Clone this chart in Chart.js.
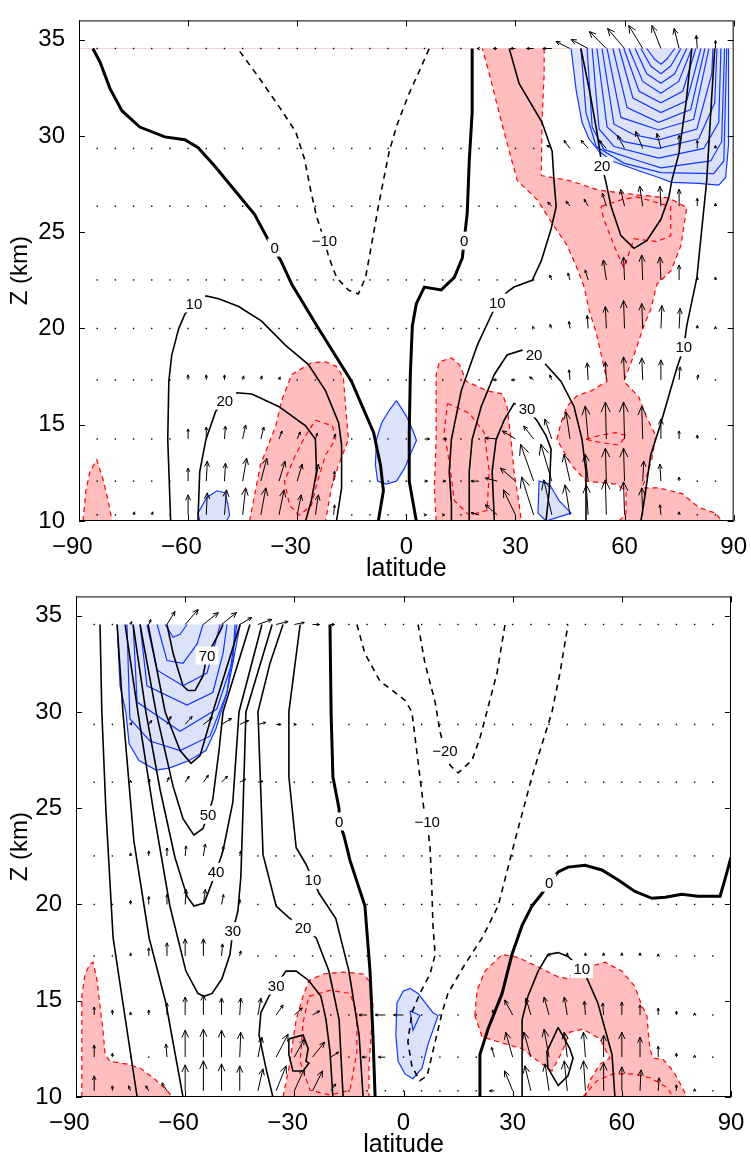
<!DOCTYPE html>
<html>
<head>
<meta charset="utf-8">
<script src="https://cdn.jsdelivr.net/npm/chart.js@4.4.1/dist/chart.umd.min.js"></script>
<style>
  body { margin: 0; background: #fff; width: 751px; height: 1156px; position: relative; overflow: hidden; }
  .panel { position: absolute; left: 0; width: 751px; height: 580px; }
</style>
</head>
<body>
<div class="panel" style="top:0"><canvas id="topPanel"></canvas></div>
<div class="panel" style="top:576px"><canvas id="bottomPanel"></canvas></div>
<script>
// ---- quiver grid (both panels) ----
const quiverLat = [-85,-80,-75,-70,-65,-60,-55,-50,-45,-40,-35,-30,-25,-20,-15,-10,-5,0,5,10,15,20,25,30,35,40,45,50,55,60,65,70,75,80,85];
const quiverZ = [34.54, 29.35, 26.35, 22.52, 20.0, 17.33, 14.26, 12.07, 10.32];

const xTicks = [-90, -60, -30, 0, 30, 60, 90];
const zTicks = [10, 15, 20, 25, 30, 35];

// ---- top panel: arrows (u east, w up) ----
const topU = [
  [0,0,0,0,0,0,0,0,0,0,0,0,0,0,0,0,0,0,0,0,0,-2,-4,-5,-7,-9,-14,-17,-17,-17,-14,-9,-5,-1,0],
  [0,0,0,0,0,0,0,0,0,0,0,0,0,0,0,0,0,0,0,0,0,0,0,0,0,-5,-6,-7,-7,-7,-7,-4,0,0,0],
  [0,0,0,0,0,0,0,0,0,0,0,0,0,0,0,0,0,0,0,0,0,0,0,0,0,-4,-4,-4,-4,-4,-3,-1,0,0,0],
  [0,0,0,0,0,0,0,0,0,0,0,0,0,0,0,0,0,0,0,0,0,0,0,0,0,-2,-2,-3,-3,-1,-1,-1,0,0,0],
  [0,0,0,0,0,0,0,0,0,0,0,0,0,0,0,0,0,0,0,0,0,0,0,0,-1,-2,-1,-1,-1,-1,-1,1,1,0,0],
  [0,0,0,0,0,0,0,0,1,1,1,0,0,0,0,0,0,0,0,0,0,0,-4,-4,-4,-2,-1,-1,-1,-1,-1,0,1,1,0],
  [0,0,0,0,0,0,0,1,3,3,3,3,2,2,0,0,0,0,5,4,0,0,-12,-13,-10,-7,-4,-3,-1,-1,-1,0,0,0,0],
  [0,0,0,0,0,0,1,1,4,6,6,5,3,1,0,0,0,0,3,3,0,-8,-12,-15,-13,-11,-6,-3,-1,-1,1,-1,0,0,0],
  [0,0,1,1,0,0,1,2,3,5,5,4,3,1,0,0,0,0,2,2,0,-8,-12,-12,-12,-8,-5,-2,-1,-1,-1,-1,0,0,0]
];
const topW = [
  [0,0,0,0,0,0,0,0,0,0,0,0,0,0,0,0,0,0,0,0,0,0,0,0,0,0,7,9,17,20,23,23,20,13,8],
  [0,0,0,0,0,0,0,0,0,0,0,0,0,0,0,0,0,0,0,0,0,0,0,0,0,3,8,8,8,13,17,15,13,8,3],
  [0,0,0,0,0,0,0,0,0,0,0,0,0,0,0,0,0,0,0,0,0,0,0,0,0,4,5,7,13,17,20,20,17,8,3],
  [0,0,0,0,0,0,0,0,0,0,0,0,0,0,0,0,0,0,0,0,0,0,0,0,0,5,7,10,20,23,25,23,15,3,3],
  [0,0,0,0,0,0,0,0,0,0,0,0,0,0,0,0,0,0,0,0,0,0,0,0,2,4,7,13,22,28,25,23,20,3,2],
  [0,0,0,0,0,5,5,5,4,4,3,0,0,0,0,0,0,0,0,0,0,0,0,0,3,5,10,17,18,23,22,20,13,5,0],
  [0,0,0,0,0,10,12,13,14,12,8,7,6,5,0,0,0,0,0,0,0,0,1,8,13,20,27,33,37,37,33,20,8,4,0],
  [0,0,0,0,0,13,20,18,23,23,20,17,17,10,0,0,0,0,0,0,0,0,3,13,37,37,27,27,33,33,20,17,4,0,0],
  [0,0,3,3,0,20,22,25,27,27,25,20,20,10,0,0,0,0,0,0,0,2,10,25,38,35,30,30,35,33,27,10,3,0,0]
];

// ---- bottom panel: arrows ----
const botU = [
  [0,0,1,2,8,13,15,15,12,14,12,10,7,4,0,0,0,0,0,0,0,0,0,0,0,0,0,0,0,0,0,0,0,0,0],
  [0,0,1,3,4,7,9,10,9,8,5,2,0,0,0,0,0,0,0,0,0,0,0,0,0,0,0,0,0,0,0,0,0,0,0],
  [0,0,0,1,2,4,5,6,6,5,0,0,0,0,0,0,0,0,0,0,0,0,0,0,0,0,0,0,0,0,0,0,0,0,0],
  [0,0,0,0,0,1,2,2,1,0,0,0,0,0,0,0,0,0,0,0,0,0,0,0,0,0,0,0,0,0,0,0,0,0,0],
  [0,0,0,0,0,1,2,2,0,0,0,0,0,0,0,0,0,0,0,0,0,0,0,0,0,0,0,0,0,0,0,0,0,0,0],
  [0,0,0,0,0,0,0,1,1,0,0,0,0,0,0,0,0,0,0,0,0,0,0,0,0,0,0,0,0,0,0,0,0,0,0],
  [0,0,0,0,0,0,0,0,1,3,7,8,7,0,0,-8,-10,-10,0,0,0,0,-2,-8,-5,-5,-3,-1,-1,0,0,0,0,0,0],
  [0,0,0,0,-1,0,0,0,1,4,12,10,12,8,0,-5,-7,0,0,0,0,0,-3,-7,-7,-5,-3,-2,0,0,0,0,0,0,0],
  [0,0,-2,-3,-5,0,0,0,0,5,10,10,10,5,0,0,0,0,0,0,0,0,-5,-8,-6,-4,-3,-2,0,0,1,1,0,0,0]
];
const botW = [
  [0,0,3,5,13,15,12,12,7,5,3,2,0,0,0,0,0,0,0,0,0,0,0,0,0,0,0,0,0,0,0,0,0,0,0],
  [0,0,2,4,8,8,7,6,4,2,0,0,0,0,0,0,0,0,0,0,0,0,0,0,0,0,0,0,0,0,0,0,0,0,0],
  [0,0,2,3,5,6,7,6,3,1,0,0,0,0,0,0,0,0,0,0,0,0,0,0,0,0,0,0,0,0,0,0,0,0,0],
  [0,0,3,5,8,10,12,10,5,0,0,0,0,0,0,0,0,0,0,0,0,0,0,0,0,0,0,0,0,0,0,0,0,0,0],
  [0,0,4,8,10,15,15,10,5,0,0,0,0,0,0,0,0,0,0,0,0,0,0,0,0,0,0,0,0,0,0,0,0,0,0],
  [0,0,3,8,13,17,17,12,5,0,0,0,0,0,0,0,0,0,0,0,0,0,0,0,0,2,3,3,3,3,3,2,0,0,0],
  [8,5,3,5,12,18,20,17,17,17,10,7,4,0,0,0,0,0,0,0,0,0,5,15,17,18,18,14,12,13,10,7,4,2,0],
  [12,4,0,0,13,27,28,27,25,20,23,18,15,5,0,0,0,0,0,0,0,0,10,25,25,28,25,25,22,25,20,11,4,2,0],
  [15,5,5,5,8,26,30,27,25,22,25,22,20,7,0,0,0,0,0,0,0,0,0,20,25,27,30,30,28,24,21,13,6,2,0]
];

// ---- top panel: shaded regions [lat, z] ----
const topPink1 = [[-88.9,10.0],[-88.1,11.57],[-87.0,12.57],[-85.1,13.18],[-83.4,12.17],[-82.0,11.06],[-80.9,10.0]];
const topPink2 = [[-43.1,10.0],[-40.1,12.92],[-35.9,14.94],[-34.3,16.25],[-31.5,17.61],[-26.1,18.22],[-22.2,18.27],[-19.2,18.02],[-17.3,17.46],[-16.7,15.95],[-15.9,14.24],[-18.6,12.92],[-20.6,11.72],[-22.2,10.0]];
const topPink3 = [[8.2,10.0],[7.7,11.72],[8.2,14.24],[8.2,17.61],[9.1,18.27],[12.4,18.47],[14.6,18.12],[16.5,17.26],[22.2,16.76],[26.4,16.6],[27.7,15.95],[28.8,14.24],[29.6,12.57],[31.0,10.91],[31.6,10.0]];
const topPink4 = [[37.9,34.54],[37.9,33.23],[37.3,30.71],[37.1,27.94],[44.7,27.69],[53.0,27.18],[63.9,26.93],[72.2,26.78],[77.1,26.28],[75.5,24.31],[72.8,23.0],[68.9,22.3],[67.2,20.99],[65.3,20.13],[62.6,18.62],[59.8,17.26],[63.9,16.45],[65.9,15.45],[68.6,14.44],[67.5,13.23],[65.9,12.22],[64.8,11.72],[69.4,11.72],[75.8,11.42],[80.4,10.71],[85.1,10.4],[86.7,10.0],[58.5,10.0],[60.4,10.4],[60.4,11.57],[57.6,11.92],[49.4,12.07],[45.3,12.93],[41.4,14.24],[42.5,15.09],[44.2,15.95],[46.9,16.5],[50.8,16.76],[55.2,17.26],[53.8,18.47],[52.2,19.78],[50.2,20.99],[48.9,22.15],[46.9,23.15],[44.2,24.31],[40.6,25.32],[36.0,26.68],[30.5,27.69],[28.3,29.2],[25.5,31.21],[22.8,33.23],[20.9,34.54]];
const topRedInner = [
  [[-25.0,15.24],[-20.3,14.94],[-19.5,14.24],[-22.2,13.43],[-24.4,12.07],[-26.1,10.81],[-29.4,10.3],[-32.1,10.81],[-33.5,12.07],[-30.7,13.33],[-28.0,14.34],[-25.0,15.24]],
  [[11.3,16.1],[17.3,15.6],[21.4,14.59],[22.8,12.57],[22.2,10.56],[17.3,10.3],[13.2,11.06],[11.8,13.08],[10.4,14.59],[11.3,16.1]],
  [[53.5,26.33],[59.0,26.68],[63.4,26.83],[72.7,26.33],[72.7,24.82],[68.9,24.51],[62.6,24.66],[59.8,23.15],[57.1,24.31],[54.3,25.67],[53.5,26.33]],
  [[49.4,14.24],[53.0,14.44],[57.6,14.59],[60.4,14.44],[58.5,13.94],[53.0,14.09],[49.4,14.24]]
];
const topBlue1 = [[45.3,34.54],[46.7,32.37],[48.3,30.71],[50.2,29.85],[53.0,29.2],[56.5,28.7],[63.9,28.19],[69.4,27.84],[73.0,27.59],[80.4,27.54],[85.9,27.44],[87.8,27.84],[88.6,29.55],[88.6,34.54]];
const topBlue2 = [[-2.7,16.25],[0.0,15.45],[1.7,14.74],[2.8,14.19],[1.4,13.58],[-0.5,12.73],[-2.7,12.07],[-5.5,11.92],[-7.9,12.07],[-8.5,12.93],[-8.2,14.24],[-6.8,15.09],[-4.7,15.75]];
const topBlue3 = [[-56.8,10],[-57.3,10.41],[-54.9,11.21],[-52.1,11.57],[-49.9,11.47],[-49.1,10.91],[-48.6,10.3],[-49.4,10]];
const topBlue4 = [[38.4,10.0],[36.2,10.41],[36.5,12.07],[39.3,11.92],[42.0,11.06],[45.3,10.41]];
const topBlueLines = [
  [[66.1,34.54],[68.3,33.98],[70.0,33.73],[71.6,33.98],[73.8,34.54]],
  [[64.5,34.54],[67.2,33.63],[70.0,33.23],[72.7,33.63],[75.5,34.54]],
  [[62.9,34.54],[66.1,33.23],[70.0,32.73],[73.8,33.23],[77.1,34.54]],
  [[61.2,34.54],[65.0,32.83],[70.0,32.22],[74.9,32.83],[78.5,34.54]],
  [[59.8,34.54],[64.0,32.32],[70.0,31.72],[76.0,32.32],[79.6,34.54]],
  [[58.5,34.54],[62.3,31.97],[70.0,31.21],[77.1,31.82],[81.0,34.54]],
  [[56.8,34.54],[60.7,31.47],[69.4,30.71],[78.2,31.37],[82.1,34.54]],
  [[55.2,34.54],[59.0,30.96],[69.4,30.31],[79.0,30.86],[83.2,34.54]],
  [[53.8,34.54],[57.1,30.61],[62.6,30.06],[69.4,29.8],[79.9,30.36],[84.0,33.23],[84.3,34.54]],
  [[52.4,34.54],[55.2,30.46],[59.8,29.7],[69.4,29.35],[80.4,29.85],[84.8,31.72],[85.4,34.54]],
  [[51.1,34.54],[53.0,30.36],[57.1,29.45],[69.4,28.85],[81.8,29.35],[85.9,30.71],[86.5,34.54]],
  [[49.7,34.54],[51.1,30.46],[54.3,29.3],[64.0,28.7],[70.0,28.34],[83.7,28.7],[86.7,29.7],[87.5,34.54]],
  [[48.0,34.54],[49.4,31.21],[52.2,29.45],[59.8,28.59],[70.0,28.09],[84.5,28.04],[87.3,28.7],[88.1,34.54]]
];

// ---- top panel: wind contours ----
const topZeroWest = [[-86.2,34.54],[-84.2,33.83],[-81.5,32.47],[-78.2,31.31],[-73.3,30.46],[-66.4,29.95],[-60.9,29.8],[-57.3,29.4],[-52.7,28.44],[-47.2,27.18],[-41.7,25.92],[-37.0,24.26],[-34.6,23.56],[-31.5,22.3],[-24.1,19.98],[-15.1,17.26],[-9.0,14.6],[-7.1,12.9],[-6.3,11.57],[-7.7,10.0]];
const topZeroEast = [[18.1,34.54],[18.1,31.21],[17.3,28.7],[16.75,26.0],[15.9,24.56],[15.4,23.66],[13.2,22.65],[9.6,22.0],[4.95,22.15],[2.75,21.29],[1.65,20.13],[1.1,17.61],[0.8,14.6],[0.8,12.07],[2.75,10.0]];
const topMinus10 = [[-45.8,34.39],[-40.9,33.13],[-34.8,31.47],[-30.4,30.21],[-28.0,28.8],[-26.3,27.18],[-24.7,25.82],[-22.5,24.56],[-21.4,23.76],[-19.2,22.65],[-15.9,21.99],[-13.2,21.79],[-11.2,22.65],[-9.6,24.31],[-7.7,26.33],[-6.3,27.69],[-4.7,29.2],[-2.5,30.61],[0.8,32.22],[3.6,33.38],[6.3,34.54]];
const topPositive = [
  [[-64.8,10.0],[-65.6,14.24],[-65.3,17.26],[-64.5,18.62],[-62.6,19.98],[-60.9,20.74],[-58.4,21.29],[-55.1,21.69],[-51.6,21.54],[-46.1,21.14],[-39.8,20.38],[-33.2,19.12],[-26.9,18.12],[-22.2,16.76],[-18.6,15.09],[-17.8,13.94],[-17.8,11.72],[-19.2,10.0]],
  [[-57.3,10.0],[-56.8,12.57],[-55.1,14.24],[-52.4,15.7],[-49.9,16.25],[-46.6,16.66],[-42.5,16.6],[-35.1,15.95],[-27.7,14.94],[-25.0,14.24],[-24.7,12.57],[-26.1,11.06],[-27.7,10.0]],
  [[28.3,34.54],[31.0,32.73],[37.3,30.71],[40.1,29.2],[40.6,27.69],[41.2,26.33],[39.8,25.17],[37.1,23.51],[34.6,22.5],[29.6,22.15],[27.7,21.89],[25.0,21.34],[23.6,20.79],[19.5,19.12],[15.1,16.76],[12.4,14.24],[11.8,12.57],[12.4,10.91],[12.4,10.0]],
  [[17.3,10.0],[17.3,12.57],[18.1,14.24],[20.6,15.95],[24.2,17.61],[27.7,18.62],[31.8,18.87],[35.1,18.62],[37.9,18.22],[42.5,17.26],[46.1,15.95],[48.3,14.24],[49.4,12.57],[49.4,10.0]],
  [[24.2,10.0],[23.6,12.57],[24.7,14.24],[26.9,15.24],[29.6,16.1],[33.2,15.85],[36.0,15.19],[38.4,14.44],[39.8,13.73],[39.3,11.57],[38.4,10.0]],
  [[48.0,34.54],[50.5,32.22],[52.4,30.21],[53.8,28.44],[54.9,27.59],[56.3,26.33],[59.0,24.82],[62.6,24.16],[66.1,24.56],[70.0,25.67],[72.2,26.83],[73.0,27.69],[74.9,29.05],[76.9,31.72],[78.5,34.54]],
  [[84.8,34.54],[83.7,31.21],[82.6,27.69],[79.9,22.65],[77.1,20.13],[76.3,19.02],[74.4,17.96],[70.0,15.09],[67.2,13.43],[65.3,10.91],[64.5,10.0]]
];
const topLabels = [[-36.2,24.2,'0'],[-22.5,24.56,'\u221210'],[15.9,24.56,'0'],[-58.4,21.3,'10'],[25.0,21.34,'10'],[-49.9,16.25,'20'],[35.1,18.62,'20'],[33.2,15.85,'30'],[53.8,28.44,'20'],[76.3,19.02,'10']];

// ---- bottom panel: shaded regions ----
const botPink1 = [[-88.4,10.0],[-88.4,15.24],[-87.5,16.39],[-86.2,16.9],[-85.3,17.0],[-84.2,16.04],[-83.4,14.73],[-82.6,13.52],[-82.0,12.21],[-80.7,11.86],[-76.0,11.71],[-72.4,11.5],[-68.8,11.0],[-65.0,10.35],[-63.6,10.0]];
const botPink2 = [[-33.1,10],[-31.5,11.5],[-29.5,14.02],[-27.6,15.24],[-26.0,16.04],[-22.1,16.39],[-16.6,16.49],[-11.1,16.39],[-9.5,16.04],[-8.4,14.88],[-8.9,13.22],[-9.5,11.5],[-9.5,10]];
const botPink3 = [[19.6,14.23],[20.2,15.54],[22.4,16.54],[27.1,17.4],[31.5,17.25],[37.0,16.75],[42.5,16.24],[45.2,16.14],[46.3,16.39],[50.7,16.75],[55.4,17.0],[60.0,16.54],[63.6,15.74],[65.5,14.73],[66.9,14.23],[67.2,13.52],[67.7,12.51],[68.6,12.01],[71.3,11.96],[74.1,11.35],[76.0,10.7],[77.9,10.0],[49.9,10.0],[51.2,10.85],[54.0,11.71],[56.7,12.01],[54.0,13.02],[49.3,13.52],[45.7,13.37],[43.6,12.36],[40.8,11.35],[37.0,11.86],[32.6,12.51],[26.0,12.87],[21.6,13.12]];
const botRedInner = [
  [[-26.0,15.23],[-20.2,15.54],[-14.7,15.38],[-12.8,14.38],[-12.8,12.36],[-14.7,10.35],[-20.2,10.1],[-25.7,10.35],[-28.4,11.86],[-27.6,13.87],[-26.0,15.23]],
  [[49.3,10],[53.2,10.85],[57.6,11.2],[63.1,11.2],[67.7,11.0],[72.4,10.5],[74.1,10]]
];
const botBlue1 = [[-78.7,34.54],[-77.9,31.36],[-76.3,30.0],[-75.4,28.34],[-72.7,27.48],[-68.0,26.98],[-64.4,27.08],[-58.9,27.48],[-54.3,27.99],[-51.5,29.15],[-48.5,31.01],[-46.9,32.52],[-44.9,34.54]];
const botBlue2 = [[1.8,15.64],[4.0,15.38],[8.1,14.38],[9.5,14.23],[6.7,12.71],[5.1,11.5],[2.6,10.95],[0.4,11.2],[-1.5,11.86],[-2.1,13.22],[-1.8,14.88],[-0.1,15.49]];
const botBlueLines = [
  [[1.8,14.48],[4.5,14.23],[2.6,13.47],[1.8,14.48]],
  [[-65.5,34.54],[-63.3,33.88],[-61.4,34.03],[-59.5,34.54]],
  [[-67.7,34.54],[-65.0,32.67],[-60.6,32.52],[-56.7,33.53],[-55.1,34.54]],
  [[-70.5,34.54],[-67.7,32.17],[-60.6,31.36],[-54.0,32.02],[-51.3,33.88],[-50.4,34.54]],
  [[-72.4,34.54],[-70.5,31.36],[-59.5,30.36],[-52.4,31.01],[-49.6,33.03],[-48.5,34.54]],
  [[-74.3,34.54],[-73.2,30.51],[-61.4,28.99],[-51.3,30.15],[-46.9,32.67],[-46.3,34.54]],
  [[-76.0,34.54],[-75.2,29.65],[-69.7,28.49],[-61.4,27.99],[-53.2,28.74],[-48.5,31.01],[-45.8,34.54]]
];

// ---- bottom panel: wind contours ----
const botZeroWest = [[-20.2,34.54],[-19.9,30.0],[-19.4,26.63],[-17.7,24.96],[-17.7,24.31],[-16.4,23.6],[-14.7,22.29],[-10.6,19.92],[-9.2,16.54],[-8.4,13.22],[-7.8,10.0]];
const botZeroEast = [[21.0,10],[21.0,12.21],[23.2,13.52],[27.1,15.38],[29.8,17.4],[32.6,18.91],[35.3,19.92],[38.1,20.58],[40.0,21.13],[42.5,21.69],[45.2,21.94],[49.9,22.04],[54.5,21.79],[58.9,21.28],[63.6,20.68],[68.3,20.32],[71.9,20.38],[76.5,20.53],[80.9,20.43],[87.0,20.43],[88.3,21.28],[90.0,22.44]];
const botMinus10 = [[-12.8,34.54],[-10.6,33.03],[-6.5,31.61],[0.4,30.61],[2.3,30.0],[3.4,28.34],[4.5,26.63],[5.6,24.96],[6.5,24.31],[7.3,22.95],[7.8,20.78],[8.1,18.91],[8.7,17.4],[7.3,16.39],[4.5,15.38],[2.3,14.38],[1.2,12.87],[2.3,11.6],[4.5,10.85],[6.5,11.1],[8.7,12.87],[10.6,14.38],[12.2,15.38],[16.9,16.9],[21.6,18.26],[26.0,19.92],[30.6,23.3],[35.3,26.63],[40.8,30.0],[43.0,32.02],[45.2,34.54]];
const botMinus20 = [[4.0,34.54],[5.9,32.52],[8.7,30.51],[10.0,29.0],[11.4,27.99],[12.8,27.23],[15.0,26.83],[18.8,27.48],[21.0,28.64],[22.9,30.0],[25.7,32.02],[27.9,34.54]];
const botPositive = [
  [[-83.4,34.54],[-82.9,30.0],[-81.8,24.96],[-79.8,18.26],[-77.1,14.88],[-73.2,10]],
  [[-78.7,34.54],[-77.1,30.0],[-74.1,23.3],[-69.9,18.26],[-65.3,14.88],[-60.6,10]],
  [[-76.5,34.54],[-73.0,30.0],[-68.8,24.96],[-64.2,19.92],[-59.8,16.54],[-56.5,15.38],[-54.8,15.23],[-52.6,15.38],[-49.9,16.14],[-47.7,17.4],[-46.9,18.61],[-45.5,19.67],[-44.7,21.43],[-44.1,24.96],[-43.3,30.0],[-36.1,34.54]],
  [[-74.3,34.54],[-70.8,30.0],[-66.9,25.97],[-62.8,22.44],[-59.5,20.43],[-57.6,19.92],[-54.8,20.07],[-51.5,21.69],[-49.6,22.79],[-46.9,25.31],[-45.2,30.0],[-38.9,34.54]],
  [[-72.4,34.54],[-68.0,30.0],[-63.3,26.12],[-60.6,24.46],[-57.6,23.6],[-55.1,23.95],[-53.7,24.66],[-52.4,25.47],[-50.7,27.99],[-49.6,30.0],[-42.2,34.54]],
  [[-70.2,34.54],[-65.5,30.0],[-61.4,27.99],[-58.4,27.33],[-55.9,27.73],[-52.4,30.0],[-44.9,34.54]],
  [[-65.0,34.54],[-63.3,33.03],[-60.6,31.36],[-59.2,31.11],[-57.3,31.11],[-55.1,31.87],[-54.0,32.93],[-50.4,34.19],[-49.6,34.54]],
  [[-33.1,34.54],[-36.7,32.52],[-40.0,30.0],[-38.6,22.59],[-35.0,19.92],[-31.5,19.32],[-27.6,18.81],[-24.0,18.26],[-20.5,16.54],[-17.7,14.02],[-16.6,10]],
  [[-28.4,34.54],[-31.5,30.0],[-31.5,26.63],[-29.5,22.95],[-26.8,22.09],[-24.9,21.28],[-23.2,20.58],[-18.6,19.27],[-15.0,16.54],[-12.2,13.22],[-11.1,10]],
  [[-35.9,10],[-37.8,11.5],[-39.7,13.22],[-39.2,14.38],[-37.0,15.23],[-35.0,15.79],[-32.3,16.54],[-29.5,16.54],[-26.0,16.04],[-22.7,15.23],[-21.3,14.02],[-20.2,12.36],[-19.4,10]],
  [[-31.5,13.02],[-27.6,13.22],[-26.2,12.51],[-26.8,11.86],[-26.0,11.76],[-27.6,11.35],[-30.4,11.35],[-31.5,12.21],[-31.5,13.02]],
  [[32.6,10],[32.6,14.02],[34.2,15.23],[37.0,16.54],[39.7,17.4],[42.5,17.5],[45.2,17.3],[49.0,16.64],[50.7,16.04],[53.4,14.88],[55.4,13.52],[57.3,12.21],[58.1,10]],
  [[42.5,13.62],[45.7,12.51],[46.6,12.01],[45.2,11.1],[42.5,10.6],[39.7,11.5],[39.4,12.36],[42.5,13.62]]
];
const botLabels = [[-54.0,32.93,'70'],[-53.7,24.66,'50'],[-51.5,21.69,'40'],[-46.9,18.61,'30'],[-35.0,15.79,'30'],[-27.6,18.81,'20'],[-24.9,21.28,'10'],[-17.7,24.31,'0'],[6.5,24.31,'\u221210'],[11.4,27.99,'\u221220'],[40.0,21.13,'0'],[49.0,16.64,'10']];

// ---- styling ----
const FONT = "'Liberation Sans', Arial, Helvetica, sans-serif";
const PINK = '#ffbdbd', RED = '#ff0000';
const LAVENDER = '#dde2fb', BLUE = '#1038ff';

const pts = a => a.map(p => ({ x: p[0], y: p[1] }));
const closed = a => (a[0][0] === a[a.length - 1][0] && a[0][1] === a[a.length - 1][1]) ? a : a.concat([a[0]]);
// segments lying on the bottom or top limit of the data are not outlined
const onEdge = c => (c.p0.parsed.y <= 10.01 && c.p1.parsed.y <= 10.01) || (c.p0.parsed.y >= 34.5 && c.p1.parsed.y >= 34.5);

function region(a, fillColor, lineColor, dashed, order) {
  return {
    data: pts(closed(a)), fill: false, polyFill: fillColor,
    borderColor: lineColor, borderWidth: 1.2, borderDash: dashed ? [5, 4] : [],
    segment: { borderColor: c => onEdge(c) ? 'rgba(0,0,0,0)' : lineColor },
    order: order
  };
}
function line(a, color, width, dash, order) {
  return { data: pts(a), fill: false, borderColor: color, borderWidth: width, borderDash: dash || [], order: order };
}

const topDatasets = [
  line([[-90, 34.54], [90, 34.54]], 'rgba(255,120,120,0.35)', 1, null, 9),
  region(topPink1, PINK, RED, true, 8), region(topPink2, PINK, RED, true, 8),
  region(topPink3, PINK, RED, true, 8), region(topPink4, PINK, RED, true, 8),
  region(topBlue1, LAVENDER, BLUE, false, 7), region(topBlue2, LAVENDER, BLUE, false, 7),
  region(topBlue3, LAVENDER, BLUE, false, 7), region(topBlue4, LAVENDER, BLUE, false, 7),
  ...topRedInner.map(a => line(a, RED, 1.2, [5, 4], 6)),
  ...topBlueLines.map(a => line(a, BLUE, 1.2, null, 6)),
  ...topPositive.map(a => line(a, '#000', 1.6, null, 2)),
  line(topMinus10, '#000', 1.6, [6, 5], 2),
  line(topZeroWest, '#000', 3, null, 1), line(topZeroEast, '#000', 3, null, 1)
];
const botDatasets = [
  region(botPink1, PINK, RED, true, 8), region(botPink2, PINK, RED, true, 8), region(botPink3, PINK, RED, true, 8),
  region(botBlue1, LAVENDER, BLUE, false, 7), region(botBlue2, LAVENDER, BLUE, false, 7),
  ...botRedInner.map(a => line(a, RED, 1.2, [5, 4], 6)),
  ...botBlueLines.map(a => line(a, BLUE, 1.2, null, 6)),
  ...botPositive.map(a => line(a, '#000', 1.6, null, 2)),
  line(botMinus10, '#000', 1.6, [6, 5], 2), line(botMinus20, '#000', 1.6, [6, 5], 2),
  line(botZeroWest, '#000', 3, null, 1), line(botZeroEast, '#000', 3, null, 1)
];

// fills the polygon of a region dataset from its laid-out points, just before its outline
const polygonFill = {
  id: 'polygonFill',
  beforeDatasetDraw(chart, args) {
    const ds = chart.data.datasets[args.index];
    if (!ds.polyFill) return;
    const { ctx, chartArea: a } = chart;
    const p = args.meta.data;
    ctx.save();
    ctx.beginPath(); ctx.rect(a.left, a.top, a.right - a.left, a.bottom - a.top); ctx.clip();
    ctx.beginPath();
    p.forEach((e, i) => i ? ctx.lineTo(e.x, e.y) : ctx.moveTo(e.x, e.y));
    ctx.closePath();
    ctx.fillStyle = ds.polyFill;
    ctx.fill();
    ctx.restore();
  }
};

// arrows, frame with inward ticks, contour labels
function extras(U, W, labels) {
  return {
    id: 'extras',
    afterDatasetsDraw(chart) {
      const { ctx, chartArea: a, scales: { x, y } } = chart;
      ctx.save();
      ctx.strokeStyle = '#000'; ctx.fillStyle = '#000'; ctx.lineWidth = 1;
      quiverZ.forEach((z, r) => quiverLat.forEach((lat, c) => {
        const px = x.getPixelForValue(lat), py = y.getPixelForValue(z);
        const dx = U[r][c], dy = -W[r][c];
        const len = Math.hypot(dx, dy);
        if (len < 1.5) { ctx.fillRect(px - 0.7, py - 0.7, 1.4, 1.4); return; }
        const tx = px + dx, ty = py + dy, ang = Math.atan2(dy, dx);
        const h = Math.max(3, len * 0.3);
        ctx.beginPath();
        ctx.moveTo(px, py); ctx.lineTo(tx, ty);
        ctx.moveTo(tx - h * Math.cos(ang - 0.42), ty - h * Math.sin(ang - 0.42));
        ctx.lineTo(tx, ty);
        ctx.lineTo(tx - h * Math.cos(ang + 0.42), ty - h * Math.sin(ang + 0.42));
        ctx.stroke();
      }));

      ctx.font = '15px ' + FONT;
      ctx.textAlign = 'center'; ctx.textBaseline = 'middle';
      labels.forEach(([lat, z, t]) => {
        const px = x.getPixelForValue(lat), py = y.getPixelForValue(z);
        const w = ctx.measureText(t).width;
        ctx.fillStyle = '#fff';
        ctx.fillRect(px - w / 2 - 3, py - 9, w + 6, 18);
        ctx.fillStyle = '#000';
        ctx.fillText(t, px, py + 1);
      });

      ctx.lineWidth = 1; ctx.strokeStyle = '#000';
      ctx.strokeRect(a.left + 0.5, a.top + 0.5, a.right - a.left - 1, a.bottom - a.top - 1);
      ctx.beginPath();
      xTicks.forEach(v => {
        const p = Math.round(x.getPixelForValue(v)) + 0.5;
        ctx.moveTo(p, a.bottom); ctx.lineTo(p, a.bottom - 6);
        ctx.moveTo(p, a.top); ctx.lineTo(p, a.top + 6);
      });
      zTicks.forEach(v => {
        const p = Math.round(y.getPixelForValue(v)) + 0.5;
        ctx.moveTo(a.left, p); ctx.lineTo(a.left + 6, p);
        ctx.moveTo(a.right, p); ctx.lineTo(a.right - 6, p);
      });
      ctx.stroke();
      ctx.restore();
    }
  };
}

function makePanel(id, datasets, U, W, labels, leftWidth, rightPad) {
  new Chart(document.getElementById(id), {
    type: 'line',
    data: { datasets: datasets },
    options: {
      responsive: true, maintainAspectRatio: false, animation: false,
      layout: { padding: { top: 5, right: rightPad, bottom: 0, left: 0 } },
      elements: { point: { radius: 0 }, line: { tension: 0 } },
      plugins: { legend: { display: false }, tooltip: { enabled: false } },
      scales: {
        x: {
          type: 'linear', min: -90, max: 90,
          grid: { display: false }, border: { display: false },
          // digits centred on the tick, the minus sign hanging to the left
          ticks: { stepSize: 30, color: '#000', padding: 4, font: { family: FONT, size: 24 },
                   callback: v => v < 0 ? '\u2212' + Math.abs(v) + '\u2007' : String(v) },
          title: { display: true, text: 'latitude', color: '#000', padding: { top: 0, bottom: -4 }, font: { family: FONT, size: 25 } },
          afterFit: s => { s.height = 59; }
        },
        y: {
          type: 'linear', min: 10, max: 36,
          grid: { display: false }, border: { display: false },
          ticks: { stepSize: 5, includeBounds: false, color: '#000', padding: 6, font: { family: FONT, size: 24 } },
          title: { display: true, text: 'Z (km)', color: '#000', padding: { top: 6, bottom: 0 }, font: { family: FONT, size: 24 } },
          afterFit: s => { s.width = leftWidth; }
        }
      }
    },
    plugins: [polygonFill, extras(U, W, labels)]
  });
}

makePanel('topPanel', topDatasets, topU, topW, topLabels, 79, 16);
makePanel('bottomPanel', botDatasets, botU, botW, botLabels, 76, 20);
</script>
</body>
</html>
